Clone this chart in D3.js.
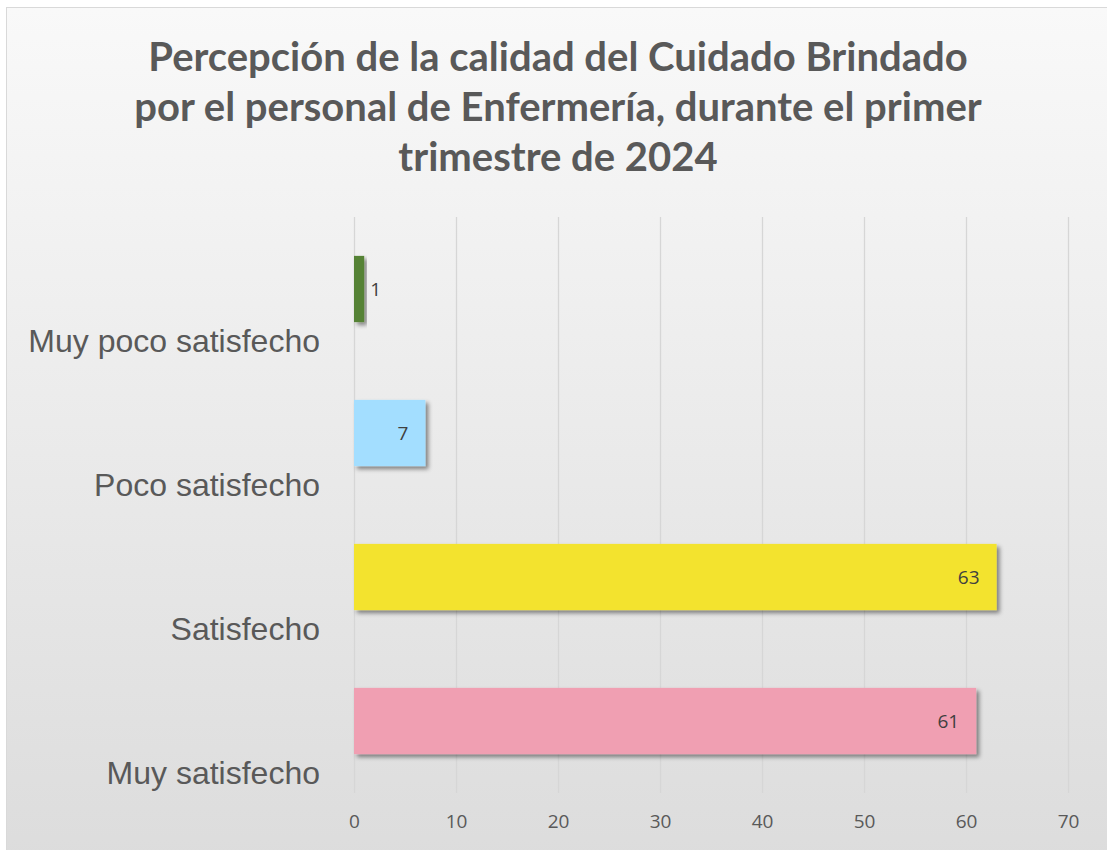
<!DOCTYPE html>
<html>
<head>
<meta charset="utf-8">
<script src="https://cdn.jsdelivr.net/npm/d3@7"></script>
<style>
  body { margin: 0; background: #fff; }
  svg { display: block; }
</style>
</head>
<body>
<div id="chart"></div>
<script>
// data
const categories = ["Muy poco satisfecho", "Poco satisfecho", "Satisfecho", "Muy satisfecho"];
const values = [1, 7, 63, 61];
const barColors = ["#548235", "#a3deff", "#f3e32e", "#f09fb2"];
const xTicks = [0, 10, 20, 30, 40, 50, 60, 70];
const titleLines = [
    "Percepción de la calidad del Cuidado Brindado",
    "por el personal de Enfermería, durante el primer",
    "trimestre de 2024"
];

const width = 1107, height = 850;
const plot = { left: 354, right: 1068, top: 217, bottom: 793 };

const svg = d3.select("#chart").append("svg")
    .attr("width", width)
    .attr("height", height);

const defs = svg.append("defs");
const grad = defs.append("linearGradient")
    .attr("id", "bg").attr("x1", 0).attr("y1", 0).attr("x2", 0).attr("y2", 1);
grad.append("stop").attr("offset", "0%").attr("stop-color", "#f9f9f9");
grad.append("stop").attr("offset", "100%").attr("stop-color", "#dcdcdc");

const shadow = defs.append("filter").attr("id", "shadow")
    .attr("x", "-10%").attr("y", "-20%").attr("width", "130%").attr("height", "150%");
shadow.append("feDropShadow")
    .attr("dx", 3).attr("dy", 3).attr("stdDeviation", 2)
    .attr("flood-color", "#000").attr("flood-opacity", 0.45);

// chart frame
svg.append("rect")
    .attr("x", 6.5).attr("y", 7.5)
    .attr("width", width + 10).attr("height", height + 10)
    .attr("fill", "url(#bg)")
    .attr("stroke", "#d9d9d9");

// title
svg.append("g").selectAll("text")
    .data(titleLines)
    .join("text")
    .attr("x", 558)
    .attr("y", (d, i) => 71 + i * 50)
    .attr("text-anchor", "middle")
    .attr("font-family", "Lato, 'Open Sans', sans-serif")
    .attr("font-weight", "bold")
    .attr("font-size", "40px")
    .attr("fill", "#595959")
    .text(d => d);

// scales
const x = d3.scaleLinear()
    .domain([0, 70])
    .range([plot.left, plot.right]);

const y = d3.scaleBand()
    .domain(categories)
    .range([plot.top, plot.bottom])
    .paddingInner(0.54)
    .paddingOuter(0.27);

// grid
svg.append("g")
    .attr("transform", `translate(0,${plot.bottom})`)
    .call(d3.axisBottom(x)
        .tickValues(xTicks)
        .tickSize(-(plot.bottom - plot.top))
        .tickFormat(""))
    .call(g => g.select(".domain").remove())
    .call(g => g.selectAll("line").attr("stroke", "#d6d6d6").attr("stroke-width", 1.3));

// x axis labels
svg.append("g")
    .attr("transform", `translate(0,${plot.bottom})`)
    .call(d3.axisBottom(x).tickValues(xTicks).tickSize(0).tickPadding(22))
    .call(g => g.select(".domain").remove())
    .call(g => g.selectAll("text")
        .attr("font-family", "'Open Sans', sans-serif")
        .attr("font-size", "19px")
        .attr("fill", "#595959"));

// category labels (sit below the bar, Excel style)
svg.append("g").selectAll("text")
    .data(categories)
    .join("text")
    .attr("x", 320)
    .attr("y", d => y(d) + y.bandwidth() / 2 + 52)
    .attr("dy", "0.35em")
    .attr("text-anchor", "end")
    .attr("font-family", "'Liberation Sans', Arial, sans-serif")
    .attr("font-size", "32px")
    .attr("fill", "#595959")
    .text(d => d);

// bars
const data = categories.map((c, i) => ({ cat: c, value: values[i], color: barColors[i] }));

svg.append("g").selectAll("rect")
    .data(data)
    .join("rect")
    .attr("x", x(0))
    .attr("y", d => y(d.cat))
    .attr("width", d => x(d.value) - x(0))
    .attr("height", y.bandwidth())
    .attr("fill", d => d.color)
    .attr("filter", "url(#shadow)");

// value labels
svg.append("g").selectAll("text")
    .data(data)
    .join("text")
    .attr("x", d => d.value < 3 ? x(d.value) + 6 : x(d.value) - 17)
    .attr("y", d => y(d.cat) + y.bandwidth() / 2)
    .attr("dy", "0.35em")
    .attr("text-anchor", d => d.value < 3 ? "start" : "end")
    .attr("font-family", "'Open Sans', sans-serif")
    .attr("font-size", "19px")
    .attr("fill", "#404040")
    .text(d => d.value);
</script>
</body>
</html>
